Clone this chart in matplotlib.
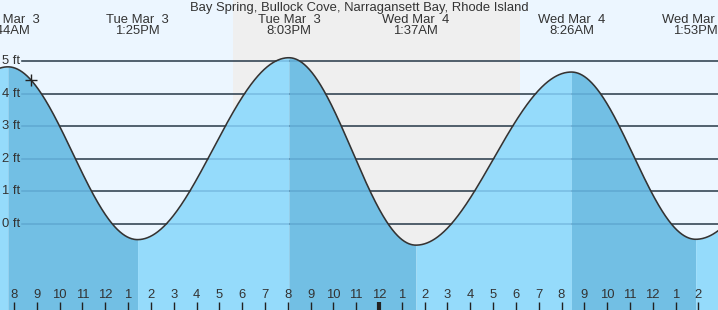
import numpy as np
import matplotlib
matplotlib.use("Agg")
import matplotlib.pyplot as plt
from matplotlib.transforms import blended_transform_factory

plt.rcParams['font.family'] = ['Liberation Sans', 'DejaVu Sans']

# ---- data (hours since midnight Mar 3) ----
title = "Bay Spring, Bullock Cove, Narragansett Bay, Rhode Island"
event_hours = [1.42, 7.733, 13.417, 20.05, 25.617, 32.433, 37.883, 44.8]
event_heights = [-0.5, 4.83, -0.48, 5.11, -0.65, 4.67, -0.47, 4.9]
event_is_high = [False, True, False, True, False, True, False, True]
label_hours = [7.733, 13.417, 20.05, 25.617, 32.433, 37.883]
label_texts = ["Tue Mar  3\n7:44AM", "Tue Mar  3\n1:25PM", "Tue Mar  3\n8:03PM",
               "Wed Mar  4\n1:37AM", "Wed Mar  4\n8:26AM", "Wed Mar  4\n1:53PM"]
sunset_hour = 17.6
sunrise_hour = 30.18
now_hour = 8.75
ft_levels = [0, 1, 2, 3, 4, 5]
ft_labels = ["0 ft", "1 ft", "2 ft", "3 ft", "4 ft", "5 ft"]
tick_hours = list(range(8, 39))
midnight_hour = 24

# ---- style ----
W, H = 718, 310
xmin_h, xmax_h = 7.386, 38.86
ymin_ft, ymax_ft = -2.643, 6.884
day_bg = "#ecf6ff"
night_bg = "#efefef"
water_light = "#95dbfb"
water_dark = "#72bfe4"
text_col = "#333333"
fs = 9.4

def tide(t):
    t = np.asarray(t, dtype=float)
    out = np.zeros_like(t)
    for i in range(len(event_hours) - 1):
        t0, t1 = event_hours[i], event_hours[i + 1]
        h0, h1 = event_heights[i], event_heights[i + 1]
        m = (t >= t0) & (t <= t1)
        s = (t[m] - t0) / (t1 - t0)
        out[m] = h0 + (h1 - h0) * (1 - np.cos(np.pi * s)) / 2
    return out

fig = plt.figure(figsize=(W / 100, H / 100), dpi=100)
ax = fig.add_axes([0, 0, 1, 1])
ax.set_xlim(xmin_h, xmax_h)
ax.set_ylim(ymin_ft, ymax_ft)
ax.axis('off')
ax.add_patch(plt.Rectangle((0, 0), 1, 1, transform=ax.transAxes, color=day_bg, zorder=0))
ax.axvspan(sunset_hour, sunrise_hour, color=night_bg, zorder=0.5, lw=0)

# gridlines
for lv in ft_levels:
    ax.axhline(lv, xmin=22 / W, xmax=1, color=text_col, lw=1.1, zorder=1)

# water fill by segment
for i in range(len(event_hours) - 1):
    t0, t1 = event_hours[i], event_hours[i + 1]
    tt = np.linspace(t0, t1, 300)
    col = water_dark if event_is_high[i] else water_light
    ax.fill_between(tt, ymin_ft, tide(tt), color=col, lw=0, zorder=2)

for lv in ft_levels:
    ax.axhline(lv, xmin=22 / W, xmax=1, color=(0.2, 0.45, 0.65, 0.3), lw=1.1, zorder=3)

tt = np.linspace(event_hours[0], event_hours[-1], 3000)
ax.plot(tt, tide(tt), color="#333333", lw=1.15, zorder=4)

ax.plot([now_hour], tide([now_hour]), marker='+', ms=9, mew=1.0, color="#222222", zorder=5)

# y labels
bt = blended_transform_factory(ax.transAxes, ax.transData)
for lv, lab in zip(ft_levels, ft_labels):
    ax.text(2 / W, lv, lab, transform=bt, ha='left', va='center',
            fontsize=fs, color=text_col, zorder=6)

# top labels
xt = blended_transform_factory(ax.transData, ax.transAxes)
for h, lab in zip(label_hours, label_texts):
    ax.text(h, 1 - 25.5 / H, lab, transform=xt, ha='center', va='center',
            fontsize=fs, color=text_col, linespacing=0.98, zorder=6)
ax.text(0.5, 1 - 7.5 / H, title, transform=ax.transAxes, ha='center', va='center',
        fontsize=fs, color=text_col, zorder=6)

# bottom hour ticks
for h in tick_hours:
    lab = str((h - 1) % 12 + 1)
    ax.text(h, 14.5 / H, lab, transform=xt, ha='center', va='center',
            fontsize=fs, color=text_col, zorder=6)
    lw = 3 if h == midnight_hour else 1
    ax.plot([h, h], [0, 8 / H], transform=xt, color="#222222", lw=lw, zorder=6,
            solid_capstyle='butt')

fig.savefig("out.png", dpi=100)
